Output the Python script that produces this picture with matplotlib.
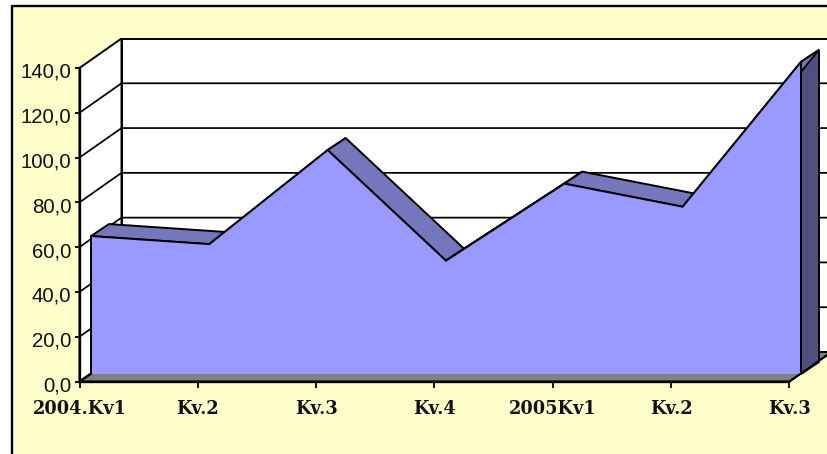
import matplotlib
matplotlib.use('Agg')
import matplotlib.pyplot as plt
from matplotlib.patches import Polygon, Rectangle
from matplotlib.transforms import ScaledTranslation

# --- Data ---
categories = ['2004.Kv1', 'Kv.2', 'Kv.3', 'Kv.4', '2005Kv1', 'Kv.2', 'Kv.3']
values = [61.6, 58.0, 100.0, 50.6, 85.0, 74.7, 139.4]
y_ticks = [0, 20, 40, 60, 80, 100, 120, 140]

# --- Layout, in pixels of the 827x454 picture ---
W, H = 827, 454
left, right, top, bottom = 79.5, 789.5, 68.0, 381.5
wall_dx, wall_dy = 42, 29.5     # depth of the whole 3D box
front_dx, front_dy = 11.5, 7.5  # where the area's front face sits
area_dx, area_dy = 18, 12       # thickness of the area

BLACK_LW = 1.4
YELLOW = '#FFFFCC'
WHITE = '#FFFFFF'
FRONT = '#9999FF'
TOP = '#7676BC'
SIDE = '#4F4F80'
FLOOR = '#808080'

fig = plt.figure(figsize=(W / 100, H / 100), dpi=100, facecolor='white')

# yellow chart area, runs off the right and bottom edges
fig.add_artist(Rectangle((11.5 / W, -0.1), 1.0, (H - 6.5) / H + 0.1, transform=fig.transFigure,
                         facecolor=YELLOW, edgecolor='black', linewidth=1.7, zorder=-1))

ax = fig.add_axes([left / W, 1 - bottom / H, (right - left) / W, (bottom - top) / H])
ax.patch.set_visible(False)
ax.set_xlim(0, len(categories) - 1)
ax.set_ylim(0, 140)

# pixels to data units, so the depth offsets can be added to data positions
ux = (len(categories) - 1) / (right - left)
uy = 140 / (bottom - top)


def poly(points, color, z, closed=True):
    ax.add_patch(Polygon(points, closed=closed, facecolor=color, edgecolor='black',
                         linewidth=BLACK_LW, joinstyle='miter', clip_on=False, zorder=z))


last = len(categories) - 1
wx, wy = wall_dx * ux, wall_dy * uy
fx, fy = front_dx * ux, front_dy * uy
ax_, ay_ = area_dx * ux, area_dy * uy

# back wall, side wall, floor
poly([(wx, wy), (last + wx, wy), (last + wx, 140 + wy), (wx, 140 + wy)], WHITE, 1)
poly([(0, 0), (wx, wy), (wx, 140 + wy), (0, 140)], WHITE, 1)
poly([(0, 0), (last, 0), (last + wx, wy), (wx, wy)], FLOOR, 1)

# gridlines on the back wall and the side wall
for v in y_ticks[1:-1]:
    ax.plot([0, wx, last + wx], [v, v + wy, v + wy], color='black', lw=BLACK_LW * 0.9,
            clip_on=False, zorder=2)

# the area's side and top faces
poly([(last + fx + ax_, fy + ay_), (last + fx + ax_, values[-1] + fy + ay_),
      (last + fx, values[-1] + fy), (last + fx, fy)], SIDE, 3)
for i in range(last):
    poly([(i + fx, values[i] + fy), (i + 1 + fx, values[i + 1] + fy),
          (i + 1 + fx + ax_, values[i + 1] + fy + ay_), (i + fx + ax_, values[i] + fy + ay_)], TOP, 3)

# front face: open at the bottom, the grey floor strip meets it with no line
front = [(fx, fy)] + [(i + fx, v + fy) for i, v in enumerate(values)] + [(last + fx, fy)]
poly(front, FRONT, 4, closed=False)

# edges of the floor strip, the bottom of the box sits on top of the walls
ax.plot([0, fx], [0, fy], color='black', lw=BLACK_LW, clip_on=False, zorder=5)
ax.plot([last, last + wx], [0, wy], color='black', lw=BLACK_LW, clip_on=False, zorder=5)

# axes
for name in ['top', 'right']:
    ax.spines[name].set_visible(False)
for name in ['left', 'bottom']:
    ax.spines[name].set_linewidth(BLACK_LW * 1.2)
    ax.spines[name].set_zorder(6)
ax.set_xticks(range(len(categories)))
ax.set_xticklabels(categories, fontfamily='DejaVu Serif', fontweight='bold', fontsize=12.8, color='#111111')
ax.set_yticks(y_ticks)
ax.set_yticklabels([f'{v:.1f}'.replace('.', ',') for v in y_ticks],
                   fontfamily='Liberation Sans', fontsize=14.7, color='#111111')
ax.tick_params(axis='x', length=4, width=1.3, pad=9.5)
ax.tick_params(axis='y', length=3.5, width=1.3, pad=2.5)

# the value labels sit a little under their ticks
nudge = ScaledTranslation(0, -2.5 / 100, fig.dpi_scale_trans)
for lbl in ax.get_yticklabels():
    lbl.set_transform(lbl.get_transform() + nudge)

fig.savefig('out.png', dpi=100, facecolor='white')
